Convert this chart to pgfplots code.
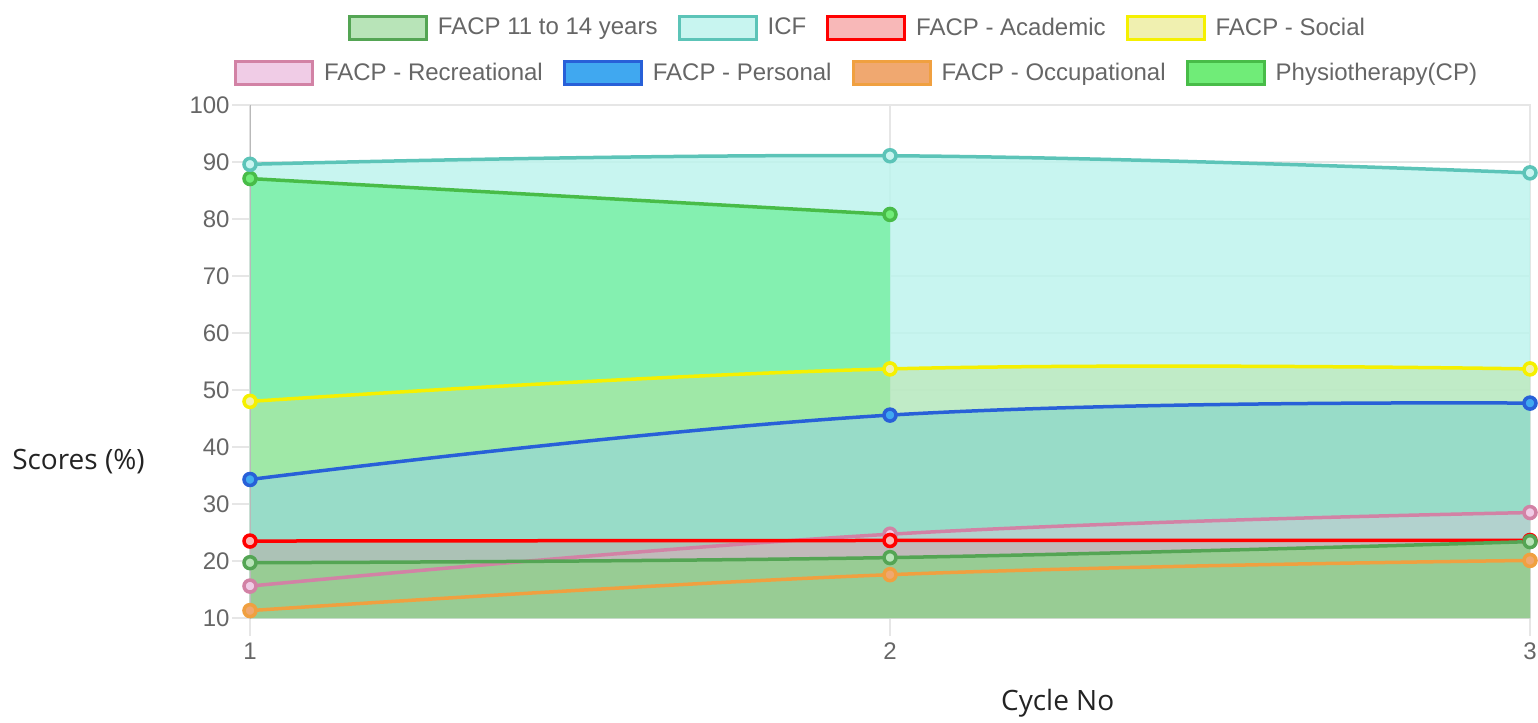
\documentclass[border=0pt]{standalone}
\usepackage{pgfplots}
\pgfplotsset{compat=1.18}
\usepackage{fontspec}
\setmainfont{Liberation Sans}
\newfontfamily\titlefont{Open Sans}

\definecolor{tickgray}{RGB}{102,102,102}
\definecolor{gridgray}{RGB}{230,230,230}
\definecolor{axisgray}{RGB}{185,185,185}
\definecolor{titlecol}{RGB}{35,35,35}

\definecolor{icfL}{RGB}{92,196,184}
\definecolor{icfF}{RGB}{190,243,237}
\definecolor{icfLeg}{RGB}{200,245,240}
\definecolor{phyL}{RGB}{72,188,72}
\definecolor{phyF}{RGB}{132,240,176}
\definecolor{phyLeg}{RGB}{112,236,120}
\definecolor{socL}{RGB}{245,240,0}
\definecolor{socF}{RGB}{186,226,160}
\definecolor{socLeg}{RGB}{240,240,176}
\definecolor{perL}{RGB}{40,96,216}
\definecolor{perF}{RGB}{152,220,200}
\definecolor{perLeg}{RGB}{64,168,240}
\definecolor{recL}{RGB}{210,130,165}
\definecolor{recF}{RGB}{240,190,220}
\definecolor{recLeg}{RGB}{240,204,230}
\definecolor{acaL}{RGB}{255,0,0}
\definecolor{acaF}{RGB}{255,90,110}
\definecolor{acaLeg}{RGB}{248,184,184}
\definecolor{yrsL}{RGB}{84,165,84}
\definecolor{yrsF}{RGB}{152,204,148}
\definecolor{yrsLeg}{RGB}{184,228,184}
\definecolor{occL}{RGB}{240,160,64}
\definecolor{occF}{RGB}{240,168,112}
\definecolor{occLeg}{RGB}{240,168,112}

\pgfplotsset{
  legbox/.style={line width=1.5pt,
    legend image code/.code={\draw[##1] (0pt,-5.75pt) rectangle (38.5pt,5.75pt);}},
  ser/.style={color=#1L, line width=1.75pt, smooth, tension=0.7, mark=*, mark size=3pt,
    mark options={fill=#1Leg, draw=#1L, line width=1.75pt}},
  area/.style={draw=none, fill=#1F, smooth, tension=0.7},
  mylegend/.style={legend style={draw=none, fill=none, legend columns=-1,
    font=\fontsize{12}{14}\selectfont, text=tickgray,
    nodes={inner xsep=5pt, inner ysep=1pt},
    /tikz/every even column/.append style={column sep=5pt}}},
}

\begin{document}
\begin{tikzpicture}
\useasboundingbox (0,0) rectangle (769pt,361.5pt);
\begin{axis}[
  at={(125pt,52.5pt)}, anchor=south west,
  scale only axis, width=640pt, height=256.5pt,
  xmin=1, xmax=3, ymin=10, ymax=100,
  xtick={1,2,3}, ytick={10,20,...,100},
  grid=major, grid style={gridgray, line width=0.6pt},
  axis line style={gridgray, line width=0.6pt},
  tick pos=left,
  tick style={gridgray, line width=0.6pt}, major tick length=9pt, tick align=outside,
  tick label style={font=\fontsize{12}{14}\selectfont, text=tickgray},
  yticklabel style={inner xsep=1pt},
  /pgf/number format/assume math mode=true,
  xlabel={Cycle No}, ylabel={Scores (\%)},
  xlabel style={at={(axis description cs:0.631,-0.166)}, anchor=center,
    font=\titlefont\fontsize{14}{16}\selectfont, text=titlecol},
  ylabel style={at={(axis description cs:-0.134,0.304)}, anchor=center, rotate=-90,
    font=\titlefont\fontsize{14}{16}\selectfont, text=titlecol},
  mylegend,
  legend style={at={(axis description cs:0.4777,1.150)}, anchor=center},
]
% filled areas (back to front)
\addplot[area=icf, fill opacity=0.85, forget plot] coordinates {(1,89.6)(2,91.1)(3,88.1)} \closedcycle;
\addplot[area=phy, forget plot] coordinates {(1,87.1)(2,80.8)} \closedcycle;
\addplot[area=soc, fill opacity=0.5, forget plot] coordinates {(1,48.0)(2,53.7)(3,53.7)} \closedcycle;
\addplot[area=per, forget plot] coordinates {(1,34.3)(2,45.6)(3,47.7)} \closedcycle;
\addplot[area=occ, fill opacity=0.2, forget plot] coordinates {(1,11.3)(2,17.6)(3,20.1)} \closedcycle;
\addplot[area=rec, fill opacity=0.3, forget plot] coordinates {(1,15.6)(2,24.7)(3,28.5)} \closedcycle;
\addplot[area=aca, fill opacity=0.2, forget plot] coordinates {(1,23.5)(2,23.6)(3,23.6)} \closedcycle;
\addplot[area=yrs, forget plot] coordinates {(1,19.7)(2,20.6)(3,23.4)} \closedcycle;
\draw[axisgray, line width=0.8pt] (axis cs:1,100) -- (axis cs:1,10) -- ++(0,-9pt);
% lines
\addplot[ser=phy, forget plot] coordinates {(1,87.1)(2,80.8)};
\addplot[ser=occ, forget plot] coordinates {(1,11.3)(2,17.6)(3,20.1)};
\addplot[ser=per, forget plot] coordinates {(1,34.3)(2,45.6)(3,47.7)};
\addplot[ser=rec, forget plot] coordinates {(1,15.6)(2,24.7)(3,28.5)};
\addplot[ser=soc, forget plot] coordinates {(1,48.0)(2,53.7)(3,53.7)};
\addplot[ser=aca, forget plot] coordinates {(1,23.5)(2,23.6)(3,23.6)};
\addplot[ser=icf, forget plot] coordinates {(1,89.6)(2,91.1)(3,88.1)};
\addplot[ser=yrs, forget plot] coordinates {(1,19.7)(2,20.6)(3,23.4)};
% legend row 1
\addlegendimage{legbox, fill=yrsLeg, draw=yrsL}
\addlegendentry{FACP 11 to 14 years}
\addlegendimage{legbox, fill=icfLeg, draw=icfL}
\addlegendentry{ICF}
\addlegendimage{legbox, fill=acaLeg, draw=acaL}
\addlegendentry{FACP - Academic}
\addlegendimage{legbox, fill=socLeg, draw=socL}
\addlegendentry{FACP - Social}
\end{axis}
\begin{axis}[
  at={(125pt,52.5pt)}, anchor=south west,
  scale only axis, width=640pt, height=256.5pt,
  xmin=1, xmax=3, ymin=10, ymax=100, hide axis,
  mylegend,
  legend style={at={(axis description cs:0.4770,1.0624)}, anchor=center},
]
\addlegendimage{legbox, fill=recLeg, draw=recL}
\addlegendentry{FACP - Recreational}
\addlegendimage{legbox, fill=perLeg, draw=perL}
\addlegendentry{FACP - Personal}
\addlegendimage{legbox, fill=occLeg, draw=occL}
\addlegendentry{FACP - Occupational}
\addlegendimage{legbox, fill=phyLeg, draw=phyL}
\addlegendentry{Physiotherapy(CP)}
\end{axis}
\end{tikzpicture}
\end{document}
